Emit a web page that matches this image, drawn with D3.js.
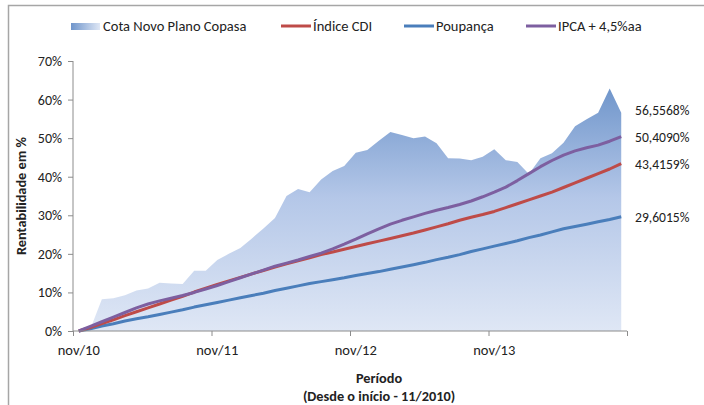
<!DOCTYPE html>
<html><head>
<meta charset="utf-8">
<title>Rentabilidade Novo Plano Copasa</title>
<script src="https://d3js.org/d3.v7.min.js"></script>
<style>
  body { margin: 0; background: #fff; }
  svg text { font-family: Carlito, Lato, sans-serif; fill: #222; }
  .axis path, .axis line { stroke: #8c8c8c; }
  .axis text { font-size: 14px; }
  .xlab text { font-size: 14.5px; }
  .title { font-size: 14.3px; font-weight: bold; }
  .legend { font-size: 14.5px; }
  .endlabel { font-size: 13.6px; }
</style>
</head>
<body>
<svg id="chart" width="704" height="405"></svg>
<script>

// months from nov/2010 to oct/2014
const months = ["nov/10","dez/10","jan/11","fev/11","mar/11","abr/11","mai/11","jun/11","jul/11","ago/11","set/11","out/11",
                "nov/11","dez/11","jan/12","fev/12","mar/12","abr/12","mai/12","jun/12","jul/12","ago/12","set/12","out/12",
                "nov/12","dez/12","jan/13","fev/13","mar/13","abr/13","mai/13","jun/13","jul/13","ago/13","set/13","out/13",
                "nov/13","dez/13","jan/14","fev/14","mar/14","abr/14","mai/14","jun/14","jul/14","ago/14","set/14","out/14"];
const tickLabels = ["nov/10","nov/11","nov/12","nov/13"];
const yTicks = [0, 10, 20, 30, 40, 50, 60, 70];

const cota = [0, 0.5, 8.2, 8.5, 9.3, 10.5, 11.0, 12.5, 12.3, 12.2, 15.6, 15.6,
              18.4, 20.0, 21.5, 24.0, 26.6, 29.3, 35.0, 36.8, 36.0, 39.3, 41.5, 42.8,
              46.2, 46.9, 49.3, 51.6, 50.8, 50.0, 50.4, 48.7, 44.8, 44.7, 44.3, 45.2,
              47.1, 44.3, 43.8, 40.7, 44.8, 46.1, 48.8, 53.1, 54.9, 56.6, 62.9, 56.5568];
const cdi = [0, 0.9, 1.9, 2.9, 4.0, 5.0, 6.0, 7.0, 8.0, 9.0, 10.1, 11.1,
             12.1, 13.0, 13.9, 14.8, 15.7, 16.6, 17.4, 18.2, 19.0, 19.8, 20.5, 21.2,
             21.9, 22.6, 23.3, 24.0, 24.7, 25.4, 26.2, 27.0, 27.8, 28.7, 29.5, 30.2,
             31.0, 32.0, 33.0, 34.0, 35.0, 36.0, 37.2, 38.4, 39.6, 40.8, 42.0, 43.4159];
const poupanca = [0, 0.6, 1.3, 1.9, 2.6, 3.2, 3.7, 4.3, 4.9, 5.5, 6.2, 6.8,
                  7.4, 8.0, 8.6, 9.2, 9.8, 10.5, 11.1, 11.7, 12.3, 12.8, 13.3, 13.8,
                  14.4, 14.9, 15.4, 16.0, 16.6, 17.2, 17.8, 18.5, 19.1, 19.8, 20.6, 21.3,
                  22.0, 22.7, 23.4, 24.2, 24.9, 25.7, 26.5, 27.1, 27.7, 28.3, 28.9, 29.6015];
const ipca = [0, 1.2, 2.4, 3.6, 4.8, 6.0, 7.0, 7.8, 8.5, 9.2, 10.0, 10.9,
              11.8, 12.8, 13.8, 14.8, 15.8, 16.8, 17.6, 18.4, 19.3, 20.2, 21.3, 22.5,
              23.8, 25.2, 26.5, 27.7, 28.7, 29.6, 30.5, 31.3, 32.0, 32.8, 33.7, 34.8,
              36.0, 37.3, 39.0, 40.8, 42.6, 44.2, 45.6, 46.7, 47.5, 48.2, 49.2, 50.409];

const svg = d3.select("#chart");
const margin = {top: 61, right: 77, bottom: 74, left: 73};
const x0 = margin.left, x1 = 704 - margin.right;
const y0 = 405 - margin.bottom, y1 = margin.top;

const xBand = d3.scaleBand().domain(months).range([x0, x1]).padding(0);
const xEdge = d3.scaleLinear().domain([0, months.length]).range([x0, x1]);
const yScale = d3.scaleLinear().domain([0, 70]).range([y0, y1]);
const cx = (d, i) => xBand(months[i]) + xBand.bandwidth() / 2;

// outer frame
svg.append("rect")
   .attr("x", 8.5).attr("y", 5.5).attr("width", 720).attr("height", 420)
   .attr("fill", "none").attr("stroke", "#a6a6a6").attr("stroke-width", 1.5);

const defs = svg.append("defs");
const areaGrad = defs.append("linearGradient")
   .attr("id", "areaGrad").attr("gradientUnits", "userSpaceOnUse")
   .attr("x1", 0).attr("x2", 0).attr("y1", yScale(63)).attr("y2", yScale(0));
areaGrad.append("stop").attr("offset", 0).attr("stop-color", "#7096cb");
areaGrad.append("stop").attr("offset", 0.45).attr("stop-color", "#b4c7e8");
areaGrad.append("stop").attr("offset", 1).attr("stop-color", "#dfe7f5");

const legGrad = defs.append("linearGradient").attr("id", "legGrad");
legGrad.append("stop").attr("offset", 0).attr("stop-color", "#6f95cb");
legGrad.append("stop").attr("offset", 1).attr("stop-color", "#dfe7f5");

// area
svg.append("path").datum(cota)
   .attr("fill", "url(#areaGrad)")
   .attr("d", d3.area().x(cx).y0(y0).y1(d => yScale(d)));

// lines
const line = d3.line().x(cx).y(d => yScale(d));
const series = [
  {name: "Poupança", values: poupanca, color: "#4a7ebb"},
  {name: "Índice CDI", values: cdi, color: "#be4b48"},
  {name: "IPCA + 4,5%aa", values: ipca, color: "#7d5fa0"}
];
series.forEach(s => {
  svg.append("path").datum(s.values)
     .attr("fill", "none").attr("stroke", s.color).attr("stroke-width", 3)
     .attr("stroke-linejoin", "round")
     .attr("d", line);
});

// y axis
svg.append("g").attr("class", "axis")
   .attr("transform", `translate(${x0},0)`)
   .call(d3.axisLeft(yScale).tickValues(yTicks).tickSize(5).tickPadding(6).tickFormat(d => d + "%"))
   .call(g => g.select(".domain").attr("d", `M0,${y1}V${y0}`));

// x axis: ticks on category edges, labels at category centres
svg.append("g").attr("class", "axis")
   .attr("transform", `translate(0,${y0})`)
   .call(d3.axisBottom(xEdge).tickValues([0, 12, 24, 36, 48]).tickSize(5).tickFormat(""))
   .call(g => g.select(".domain").attr("d", `M${x0},0H${x1}`));
svg.append("g").attr("class", "axis xlab")
   .attr("transform", `translate(0,${y0})`)
   .call(d3.axisBottom(xBand).tickValues(tickLabels).tickSize(0).tickPadding(14))
   .call(g => g.select(".domain").remove());

// axis titles
svg.append("text").attr("class", "title")
   .attr("transform", `translate(26,${(y0 + y1) / 2}) rotate(-90)`)
   .attr("text-anchor", "middle").text("Rentabilidade em %");
svg.append("text").attr("class", "title")
   .attr("x", 379).attr("y", 383).attr("text-anchor", "middle").text("Período");
svg.append("text").attr("class", "title")
   .attr("x", 379).attr("y", 401).attr("text-anchor", "middle").text("(Desde o início - 11/2010)");

// end value labels
const ends = [
  {values: cota, dy: -3},
  {values: ipca, dy: 1},
  {values: cdi, dy: 1},
  {values: poupanca, dy: 0}
];
ends.forEach(e => {
  const v = e.values[e.values.length - 1];
  svg.append("text").attr("class", "endlabel")
     .attr("x", 635).attr("y", yScale(v) + e.dy).attr("dy", "0.35em")
     .text(v.toFixed(4).replace(".", ",") + "%");
});

// legend
const legend = [
  {name: "Cota Novo Plano Copasa", x: 71, type: "area"},
  {name: "Índice CDI", x: 281, color: "#be4b48"},
  {name: "Poupança", x: 404, color: "#4a7ebb"},
  {name: "IPCA + 4,5%aa", x: 526, color: "#7d5fa0"}
];
const lg = svg.append("g").attr("transform", "translate(0,26)");
legend.forEach(l => {
  if (l.type === "area") {
    lg.append("rect").attr("x", l.x).attr("y", -3).attr("width", 29).attr("height", 7)
      .attr("fill", "url(#legGrad)");
  } else {
    lg.append("line").attr("x1", l.x).attr("x2", l.x + 30).attr("y1", 0).attr("y2", 0)
      .attr("stroke", l.color).attr("stroke-width", 3);
  }
  lg.append("text").attr("class", "legend").attr("x", l.x + 32).attr("dy", "0.35em").text(l.name);
});

</script>
</body>
</html>
